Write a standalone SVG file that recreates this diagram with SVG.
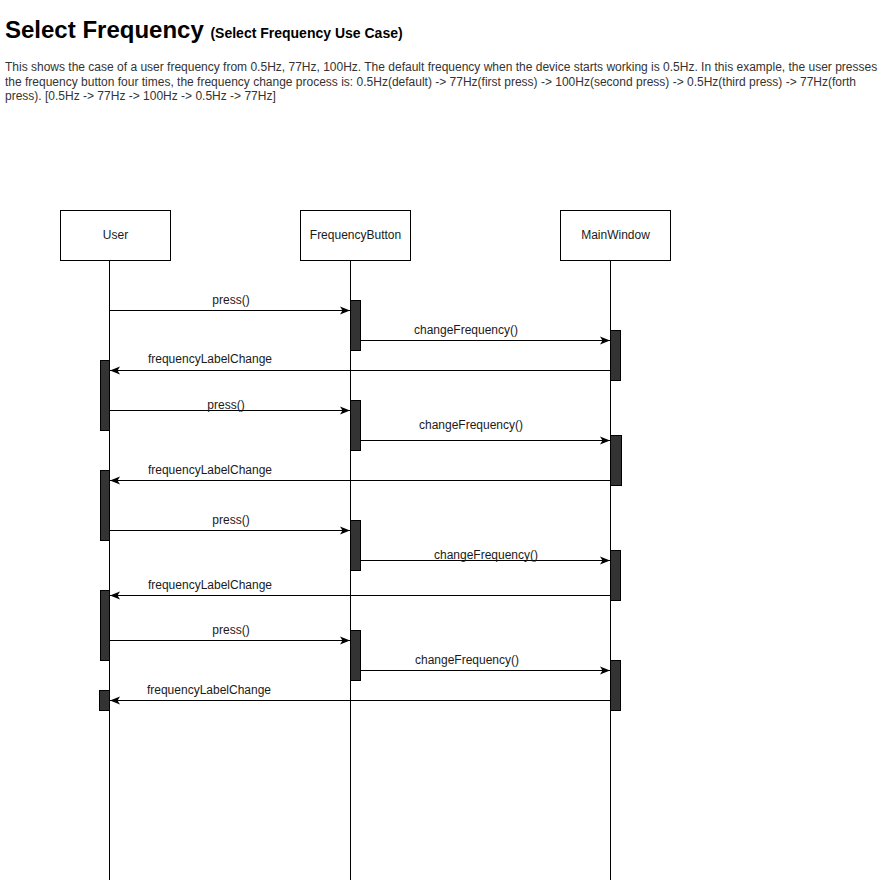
<svg xmlns="http://www.w3.org/2000/svg" width="891" height="882" viewBox="0 0 891 882">
<defs>
<style>
.t{font-family:"Liberation Sans",Arial,sans-serif;fill:#000}
.d{font-family:"Liberation Sans",Arial,sans-serif;font-size:12px;fill:#333}
.lbl{font-family:"Liberation Sans",Arial,sans-serif;font-size:12px;fill:#1a1a1a;text-anchor:middle}
.box{fill:#fff;stroke:#000;stroke-width:1}
.life{stroke:#000;stroke-width:1;fill:none}
.act{fill:#333;stroke:#000;stroke-width:1}
.msg{stroke:#000;stroke-width:1;fill:none;marker-end:url(#ah)}
.nm{font-family:"Liberation Sans",Arial,sans-serif;font-size:12px;fill:#1a1a1a;text-anchor:middle}
</style>
<marker id="ah" viewBox="0 0 10 10" refX="10" refY="5" markerWidth="10" markerHeight="10" markerUnits="userSpaceOnUse" orient="auto">
<path d="M0,1 L10,5 L0,9 L2.5,5 Z" fill="#000"/>
</marker>
</defs>
<rect width="891" height="882" fill="#fff"/>
<g id="title">
<text class="t" x="5" y="38" font-size="24" font-weight="bold">Select Frequency <tspan font-size="14">(Select Frequency Use Case)</tspan></text>
<text class="d" x="5" y="70.5">This shows the case of a user frequency from 0.5Hz, 77Hz, 100Hz. The default frequency when the device starts working is 0.5Hz. In this example, the user presses</text>
<text class="d" x="5" y="85.5">the frequency button four times, the frequency change process is: 0.5Hz(default) -&gt; 77Hz(first press) -&gt; 100Hz(second press) -&gt; 0.5Hz(third press) -&gt; 77Hz(forth</text>
<text class="d" x="5" y="100">press). [0.5Hz -&gt; 77Hz -&gt; 100Hz -&gt; 0.5Hz -&gt; 77Hz]</text>
</g>
<g id="user">
<rect class="box" x="60.5" y="210.5" width="110" height="50"/>
<text class="nm" x="115.5" y="239">User</text>
<line class="life" x1="109.5" y1="260.5" x2="109.5" y2="880"/>
</g>
<g id="frequencybutton">
<rect class="box" x="300.5" y="210.5" width="110" height="50"/>
<text class="nm" x="355.5" y="239">FrequencyButton</text>
<line class="life" x1="350.5" y1="260.5" x2="350.5" y2="880"/>
</g>
<g id="mainwindow">
<rect class="box" x="560.5" y="210.5" width="110" height="50"/>
<text class="nm" x="615.5" y="239">MainWindow</text>
<line class="life" x1="610.5" y1="260.5" x2="610.5" y2="880"/>
</g>
<g id="activations">
<rect class="act" x="350.5" y="300.5" width="10" height="50"/>
<rect class="act" x="350.5" y="400.5" width="10" height="50"/>
<rect class="act" x="350.5" y="520.5" width="10" height="50"/>
<rect class="act" x="350.5" y="630.5" width="10" height="50"/>
<rect class="act" x="610.5" y="330.5" width="10" height="50"/>
<rect class="act" x="610.5" y="435.5" width="11" height="50"/>
<rect class="act" x="610.5" y="550.5" width="10" height="50"/>
<rect class="act" x="610.5" y="660.5" width="10" height="50"/>
<rect class="act" x="100.5" y="360.5" width="9" height="70"/>
<rect class="act" x="100.5" y="470.5" width="9" height="70"/>
<rect class="act" x="100.5" y="590.5" width="9" height="70"/>
<rect class="act" x="99.5" y="690.5" width="10" height="20"/>
</g>
<g id="connectors">
<line class="msg" x1="110" y1="310.5" x2="350" y2="310.5"/>
<line class="msg" x1="360" y1="340.5" x2="610" y2="340.5"/>
<line class="msg" x1="610" y1="370.5" x2="110" y2="370.5"/>
<line class="msg" x1="110" y1="410.5" x2="350" y2="410.5"/>
<line class="msg" x1="360" y1="440.5" x2="610" y2="440.5"/>
<line class="msg" x1="610" y1="480.5" x2="110" y2="480.5"/>
<line class="msg" x1="110" y1="530.5" x2="350" y2="530.5"/>
<line class="msg" x1="360" y1="560.5" x2="610" y2="560.5"/>
<line class="msg" x1="610" y1="595.5" x2="110" y2="595.5"/>
<line class="msg" x1="110" y1="640.5" x2="350" y2="640.5"/>
<line class="msg" x1="360" y1="670.5" x2="610" y2="670.5"/>
<line class="msg" x1="610" y1="700.5" x2="110" y2="700.5"/>
<text class="lbl" x="231" y="304">press()</text>
<text class="lbl" x="466" y="334">changeFrequency()</text>
<text class="lbl" x="210" y="363">frequencyLabelChange</text>
<text class="lbl" x="226" y="409">press()</text>
<text class="lbl" x="471" y="429">changeFrequency()</text>
<text class="lbl" x="210" y="474">frequencyLabelChange</text>
<text class="lbl" x="231" y="524">press()</text>
<text class="lbl" x="486" y="559">changeFrequency()</text>
<text class="lbl" x="210" y="589">frequencyLabelChange</text>
<text class="lbl" x="231" y="634">press()</text>
<text class="lbl" x="467" y="664">changeFrequency()</text>
<text class="lbl" x="209" y="694">frequencyLabelChange</text>
</g>
</svg>
